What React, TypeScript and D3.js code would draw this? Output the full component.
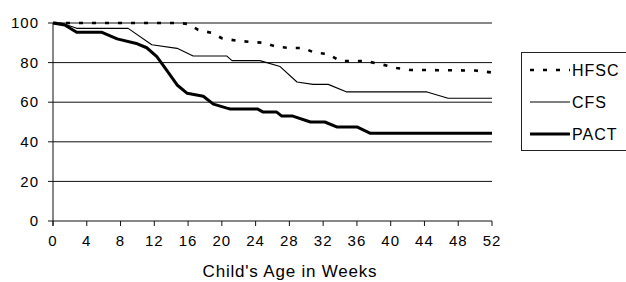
import React from 'react';
import * as d3 from 'd3';

// survival curves: [week, percent]
const hfsc: [number, number][] = [
  [0, 100], [15, 100], [16, 99.5], [17.2, 96.5], [18.8, 95], [20, 92.3], [21.8, 91],
  [24.9, 90], [26.5, 88], [28, 87.4], [29.6, 87.4], [31, 85], [32.6, 84.3], [34, 80.8],
  [37, 80.8], [38.7, 79.3], [40.7, 77.3], [42.3, 76.3], [50, 76], [52, 75],
];
const cfs: [number, number][] = [
  [0, 100], [1, 100], [2.8, 97.3], [8.9, 97.3], [11.7, 89], [14.7, 87.2], [16.6, 83.3],
  [20.6, 83.3], [21.2, 81], [24.5, 81], [26.9, 78], [28.9, 70.2], [30.8, 69], [32.6, 69],
  [34.8, 65.2], [44.3, 65.2], [46.8, 62], [52, 62],
];
const pact: [number, number][] = [
  [0, 100], [1.4, 99], [2.8, 95.3], [5.8, 95.3], [7.6, 92], [10, 89.5], [11.1, 87.5],
  [12.3, 83], [13.5, 76], [14.7, 68.7], [15.9, 64.5], [17.8, 63], [19, 59], [20.6, 57],
  [21, 56.6], [24.2, 56.6], [24.9, 55], [26.5, 55], [27.1, 53], [28.4, 53], [30.5, 50],
  [32.2, 50], [33.6, 47.5], [36, 47.5], [37.6, 44.3], [52, 44.3],
];

const xTicks = [0, 4, 8, 12, 16, 20, 24, 28, 32, 36, 40, 44, 48, 52];
const yTicks = [0, 20, 40, 60, 80, 100];
const seriesNames = ['HFSC', 'CFS', 'PACT'];

const styles: Record<string, { width: number; dash?: string }> = {
  HFSC: { width: 2.6, dash: '4 9' },
  CFS: { width: 1.1 },
  PACT: { width: 3 },
};

const App = () => {
  const x = d3.scaleLinear().domain([0, 52]).range([53, 492]);
  const y = d3.scaleLinear().domain([0, 100]).range([221, 23]);
  const line = d3.line<[number, number]>().x(d => x(d[0])).y(d => y(d[1]));
  const data: Record<string, [number, number][]> = { HFSC: hfsc, CFS: cfs, PACT: pact };
  const font = "'Liberation Sans', Arial, sans-serif";

  return (
    <svg width={626} height={282} style={{ position: 'absolute', left: 0, top: 0, background: '#fff' }}
      fontFamily={font}>
      {yTicks.map(t => (
        <g key={t}>
          <line x1={48} x2={t === 0 ? 492 : 492} y1={y(t)} y2={y(t)} stroke="#111" strokeWidth={1} />
          <text x={39} y={y(t)} dy="0.35em" textAnchor="end" fontSize={15} letterSpacing={1}>{t}</text>
        </g>
      ))}
      <line x1={53} x2={53} y1={y(100)} y2={226} stroke="#111" strokeWidth={1} />
      {xTicks.map(t => (
        <g key={t}>
          <line x1={x(t)} x2={x(t)} y1={221} y2={226} stroke="#111" strokeWidth={1} />
          <text x={x(t)} y={246} textAnchor="middle" fontSize={15} letterSpacing={1}>{t}</text>
        </g>
      ))}
      <text x={290} y={277} textAnchor="middle" fontSize={17} letterSpacing={0.8}>Child's Age in Weeks</text>

      {seriesNames.map(n => (
        <path key={n} d={line(data[n]) || ''} fill="none" stroke="#000"
          strokeWidth={styles[n].width} strokeDasharray={styles[n].dash} strokeLinejoin="round" />
      ))}

      <rect x={521.5} y={52.5} width={120} height={98} fill="#fff" stroke="#222" strokeWidth={1} />
      {seriesNames.map((n, i) => {
        const ly = 70 + i * 32;
        return (
          <g key={n}>
            <line x1={530} x2={570} y1={ly} y2={ly} stroke="#000" strokeWidth={styles[n].width}
              strokeDasharray={styles[n].dash} />
            <text x={572} y={ly} dy="0.36em" fontSize={16} letterSpacing={1}>{n}</text>
          </g>
        );
      })}
    </svg>
  );
};

export default App;
